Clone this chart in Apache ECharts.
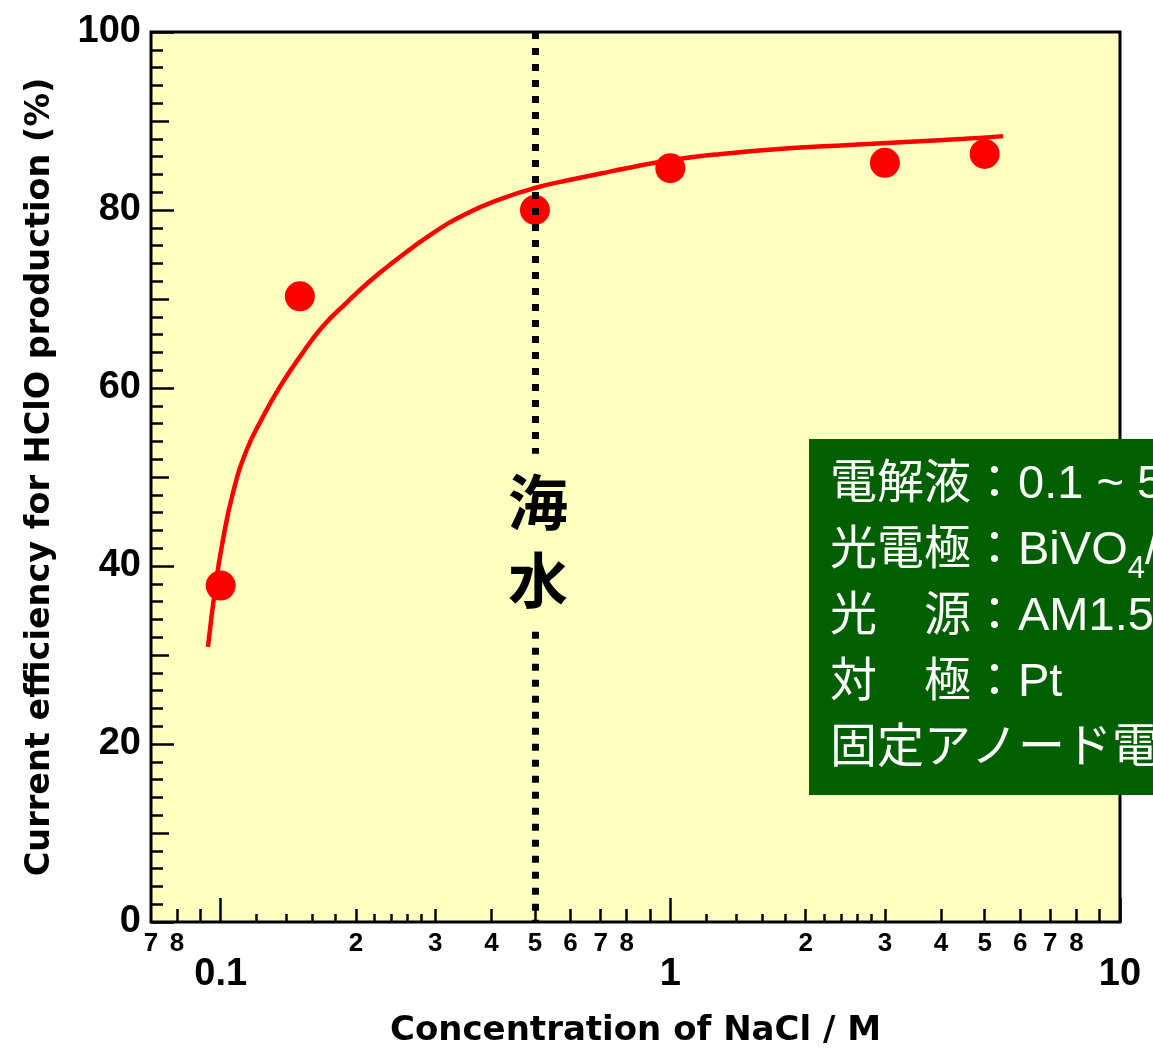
<!DOCTYPE html>
<html>
<head>
<meta charset="utf-8">
<title>HClO current efficiency vs NaCl concentration</title>
<script src="https://cdn.jsdelivr.net/npm/echarts@6/dist/echarts.min.js"></script>
<style>
html, body { margin: 0; padding: 0; background: #fff; }
#chart { width: 1153px; height: 1052px; }
</style>
</head>
<body>
<div id="chart"></div>
<script>
// 測定点 (NaCl 濃度 / M, 電流効率 / %)
const concentrations = [0.1, 0.15, 0.5, 1, 3, 5];
const efficiencies = [37.8, 70.3, 80.0, 84.7, 85.3, 86.3];

// フィット曲線
const fitX = [0.0937, 0.0975, 0.1009, 0.1065, 0.1142, 0.124, 0.1353, 0.15, 0.1686, 0.1907, 0.2145, 0.24,
    0.2965, 0.3526, 0.4175, 0.502, 0.6, 0.7, 0.8, 1.0, 1.3, 1.8, 2.5, 3.5, 4.5, 5.5];
const fitY = [30.9, 37.9, 42.6, 48.2, 53.0, 56.7, 60.1, 63.5, 66.9, 69.6, 72.0, 74.0,
    77.4, 79.6, 81.2, 82.5, 83.4, 84.1, 84.7, 85.6, 86.3, 86.9, 87.3, 87.7, 88.0, 88.3];

// 海水の NaCl 濃度
const seawater = 0.5;

// 目盛り
const xMajorTicks = [0.1, 1, 10];
const xMinorTicks = [0.08, 0.09, 0.2, 0.3, 0.4, 0.5, 0.6, 0.7, 0.8, 0.9, 2, 3, 4, 5, 6, 7, 8, 9];
const xFineTicks = [0.12, 0.14, 0.16, 0.18, 0.22, 0.24, 0.26, 0.28, 1.2, 1.4, 1.6, 1.8, 2.2, 2.4, 2.6, 2.8];
const xMinorLabels = [0.07, 0.08, 0.2, 0.3, 0.4, 0.5, 0.6, 0.7, 0.8, 2, 3, 4, 5, 6, 7, 8];
const yMajorTicks = [0, 20, 40, 60, 80, 100];
const yMidTicks = [10, 30, 50, 70, 90];
const yMinorTicks = [2, 4, 6, 8, 12, 14, 16, 18, 22, 24, 26, 28, 32, 34, 36, 38, 42, 44, 46, 48,
    52, 54, 56, 58, 62, 64, 66, 68, 72, 74, 76, 78, 82, 84, 86, 88, 92, 94, 96, 98];

// 実験条件
const conditionLines = [
    '{t|電解液：0.1 ~ 5 M NaCl}',
    '{t|光電極：BiVO}{s|4}{t|/WO}{s|3}',
    '{t|光　源：AM1.5G}',
    '{t|対　極：Pt}',
    '{t|固定アノード電位}'
];

const latin = "'Liberation Sans', Arial, sans-serif";
const wide = "'DejaVu Sans', 'Liberation Sans', sans-serif";
const cjk = "'Liberation Sans', 'Noto Sans CJK JP', sans-serif";

const chart = echarts.init(document.getElementById('chart'));

// 対数軸を重ねて長さの違う目盛りを描く
function xAxisLayer(ticks, len, labelValues, extra) {
    return Object.assign({
        type: 'log',
        logBase: 10,
        min: 0.07,
        max: 10,
        position: 'bottom',
        axisLine: { show: false },
        splitLine: { show: false },
        axisTick: { show: true, inside: true, length: len, customValues: ticks, lineStyle: { color: '#000', width: 2.5 } },
        axisLabel: labelValues ? {} : { show: false }
    }, extra || {});
}

function yAxisLayer(ticks, len, extra) {
    return Object.assign({
        type: 'value',
        min: 0,
        max: 100,
        position: 'left',
        axisLine: { show: false },
        splitLine: { show: false },
        axisTick: { show: true, inside: true, length: len, customValues: ticks, lineStyle: { color: '#000', width: 2.5 } },
        axisLabel: { show: false }
    }, extra || {});
}

const option = {
    animation: false,
    grid: {
        left: 151,
        right: 33,
        top: 32,
        bottom: 130,
        outerBoundsMode: 'none',
        show: true,
        backgroundColor: '#FFFFC0',
        borderColor: '#000',
        borderWidth: 3
    },
    xAxis: [
        xAxisLayer(xMajorTicks, 24, true, {
            name: 'Concentration of NaCl / M',
            nameLocation: 'middle',
            nameGap: 92,
            nameTextStyle: { fontSize: 34, fontWeight: 'bold', fontFamily: wide, color: '#000' },
            axisLabel: {
                customValues: xMajorTicks,
                margin: 34,
                fontSize: 38,
                fontWeight: 'bold',
                fontFamily: latin,
                color: '#000',
                formatter: v => String(+Number(v).toPrecision(3))
            }
        }),
        xAxisLayer(xMinorTicks, 13, true, {
            axisLabel: {
                customValues: xMinorLabels,
                margin: 9,
                fontSize: 26,
                fontWeight: 'bold',
                fontFamily: latin,
                color: '#000',
                formatter: v => {
                    const p = Math.pow(10, Math.floor(Math.log10(v) + 1e-9));
                    return String(Math.round(v / p));
                }
            }
        }),
        xAxisLayer(xFineTicks, 8, false)
    ],
    yAxis: [
        yAxisLayer(yMajorTicks, 23, {
            name: 'Current efficiency for HClO production (%)',
            nameLocation: 'middle',
            nameGap: 94,
            nameTextStyle: { fontSize: 33.5, fontWeight: 'bold', fontFamily: wide, color: '#000' },
            axisLabel: {
                customValues: yMajorTicks,
                margin: 10,
                fontSize: 38,
                fontWeight: 'bold',
                fontFamily: latin,
                color: '#000'
            }
        }),
        yAxisLayer(yMidTicks, 18),
        yAxisLayer(yMinorTicks, 12)
    ],
    series: [
        {
            name: 'fit',
            type: 'line',
            xAxisIndex: 0,
            yAxisIndex: 0,
            smooth: true,
            symbol: 'none',
            lineStyle: { color: '#FF0000', width: 4.5 },
            data: fitX.map((x, i) => [x, fitY[i]]),
            z: 2
        },
        {
            name: 'measured',
            type: 'scatter',
            xAxisIndex: 0,
            yAxisIndex: 0,
            symbol: 'circle',
            symbolSize: 30,
            itemStyle: { color: '#FF0000', opacity: 1 },
            data: concentrations.map((x, i) => [x, efficiencies[i]]),
            z: 3,
            // 海水濃度の点線 (文字の部分は空ける)
            markLine: {
                silent: true,
                symbol: 'none',
                label: { show: false },
                lineStyle: { color: '#000', width: 7, type: [7, 9], opacity: 1 },
                data: [
                    [{ coord: [seawater, 100] }, { coord: [seawater, 52.6] }],
                    [{ coord: [seawater, 32.6] }, { coord: [seawater, 0] }]
                ]
            }
        }
    ],
    graphic: [
        {
            type: 'text',
            x: 538,
            y: 541,
            z: 50,
            style: {
                text: '海\n水',
                fontSize: 60,
                fontWeight: 'bold',
                fontFamily: "'Noto Sans CJK JP', sans-serif",
                fill: '#000',
                lineHeight: 78,
                align: 'center',
                verticalAlign: 'middle'
            }
        },
        {
            type: 'rect',
            left: 809,
            top: 439,
            z: 60,
            shape: { width: 360, height: 356 },
            style: { fill: '#006000' }
        },
        {
            type: 'text',
            left: 830,
            top: 462,
            z: 61,
            style: {
                text: conditionLines.join('\n'),
                fill: '#fff',
                rich: {
                    t: { fontSize: 47, fontFamily: cjk, fill: '#fff', lineHeight: 66 },
                    s: { fontSize: 31, fontFamily: latin, fill: '#fff', lineHeight: 46, verticalAlign: 'bottom' }
                }
            }
        }
    ]
};

chart.setOption(option);
</script>
</body>
</html>
